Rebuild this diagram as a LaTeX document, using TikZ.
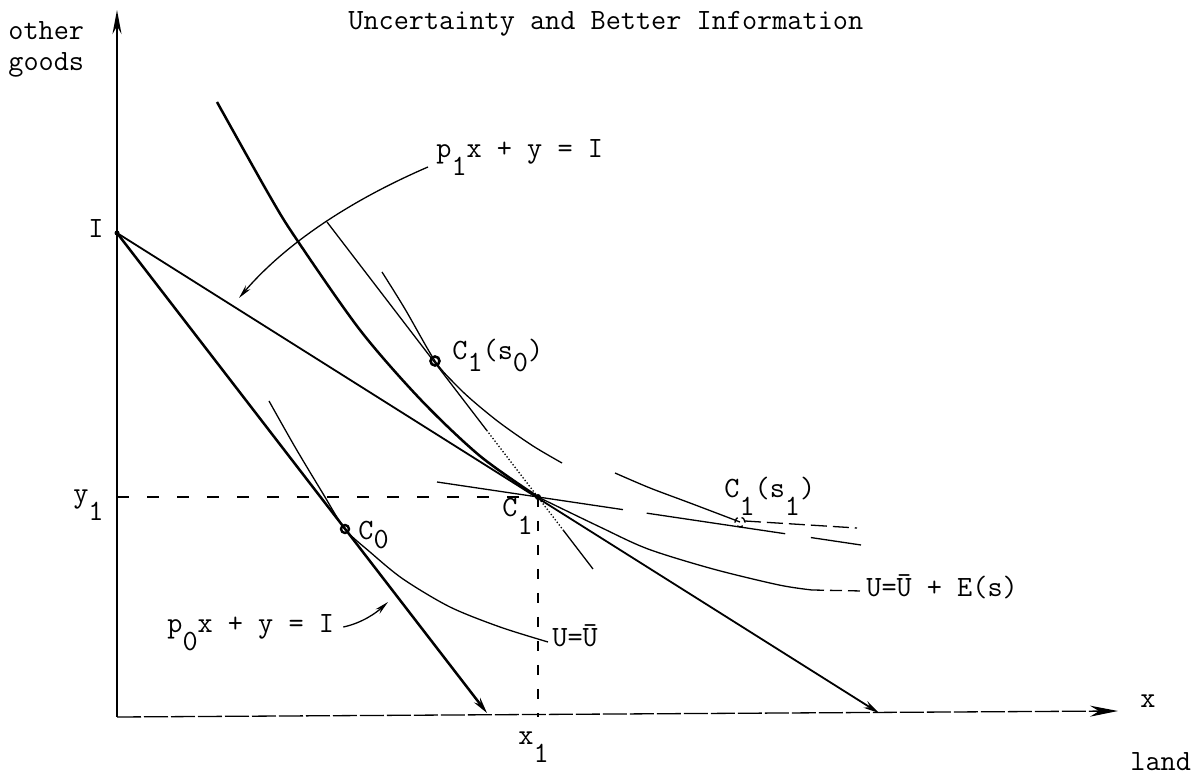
\documentclass[tikz,border=0pt]{standalone}
\usepackage{fontspec}
\usepackage{tikz}
\usetikzlibrary{arrows.meta, calc}
\newcommand{\lo}[2][0.58em]{\raisebox{-#1}{#2}}

\begin{document}
\begin{tikzpicture}[x=0.5pt, y=0.5pt,
  lbl/.style={anchor=base west, inner sep=0pt, font=\ttfamily\fontsize{14.7}{17}\selectfont},
  heavy/.style={line width=1.25pt},
  medium/.style={line width=0.9pt},
  fine/.style={line width=0.65pt},
  tip/.style={-{Stealth[length=8pt, width=3.8pt]}},
  lbltip/.style={-{Stealth[length=7pt, width=3pt]}}]
\useasboundingbox (0,0) rectangle (1191,-780);
% axes
\coordinate (O) at (117,-717);
\coordinate (Ytop) at (117,-10);
\coordinate (Xend) at (1118,-711);
\draw[heavy, -{Stealth[length=12pt, width=4.5pt]}] (O) -- (Ytop);
\draw[fine, dash pattern=on 12pt off 1.5pt, -{Stealth[length=14pt, width=5.5pt]}] (O) -- (Xend);
% points
\coordinate (I) at (117,-233);
\coordinate (C0) at (345,-529);
\coordinate (C1) at (538,-497);
\coordinate (C1s0) at (435,-361);
\coordinate (C1s1) at (740,-522);
\coordinate (P0end) at (487,-713);
\coordinate (P1end) at (879,-713);
% budget lines
\draw[heavy, tip] (I) -- (P0end);
\draw[medium, tip] (I) -- (P1end);
% guides to y1 and x1
\draw[fine, dash pattern=on 6pt off 9pt] (I |- C1) -- (C1);
\draw[fine, dash pattern=on 5pt off 7pt] (C1) -- (C1 |- O);
% U = U + E(s)
\draw[heavy] plot[smooth] coordinates {(217,-102) (268,-193) (295,-237) (360,-330) (421,-400) (480,-456) (C1)};
\draw[fine] plot[smooth] coordinates {(C1) (600,-527) (648,-549) (713,-569) (779,-585) (812,-590)};
\draw[fine, dash pattern=on 6pt off 3pt] (812,-590) -- (862,-591);
% U = U
\draw[fine] plot[smooth] coordinates {(269,-401) (295,-447) (322,-492) (C0) (370,-552) (403,-579) (450,-607) (500,-627) (548,-642)};
% state s0
\draw[fine] plot[smooth] coordinates {(382,-272) (405,-309) (C1s0) (455,-384) (473,-401) (500,-423) (533,-446) (562,-463)};
\coordinate (T0a) at (327,-222);
\coordinate (T0b) at (593,-569);
\coordinate (T0m) at ($(T0a)!0.6!(T0b)$);
\coordinate (T0n) at ($(T0a)!0.89!(T0b)$);
\draw[fine] (T0a) -- (T0m);
\draw[fine, densely dotted] (T0m) -- (T0n);
\draw[fine] (T0n) -- (T0b);
% state s1
\draw[fine] plot[smooth] coordinates {(615,-473) (650,-488) (690,-503) (C1s1)};
\draw[fine, dash pattern=on 8pt off 3pt] (745,-521) -- (857,-528);
\coordinate (T1a) at (437,-482);
\coordinate (T1b) at (861,-545);
\draw[fine, dash pattern=on 94pt off 12pt on 70pt off 13pt on 30pt] (T1a) -- (C1) -- (T1b);
% markers
\draw[line width=1.2pt] (C0) circle[radius=4];
\draw[line width=1.3pt] (C1s0) circle[radius=4.5];
\draw[fine, densely dashed] (C1s1) circle[radius=5];
\fill (C1) circle[radius=3];
\fill (I) circle[radius=2.5];
% labels
\node[lbl] (title) at (348,-30) {Uncertainty and Better Information};
\node[lbl] (ylabA) at (8,-40) {other};
\node[lbl] (ylabB) at (8,-71) {goods};
\node[lbl, anchor=base east] (Ilbl) at (104,-238) {I};
\node[lbl, anchor=base east] (y1lbl) at (104,-503) {y\lo{1}};
\node[lbl] (p1lbl) at (436,-158) {p\lo{1}x + y = I};
\node[lbl] (p0lbl) at (167,-633) {p\lo{0}x + y = I};
\node[lbl] (C1s0lbl) at (452,-360) {C\lo[0.4em]{1}(s\lo[0.4em]{0})};
\node[lbl] (C1s1lbl) at (724,-498) {C\lo{1}(s\lo{1})};
\node[lbl] (C0lbl) at (358,-540) {C\lo[0.3em]{0}};
\node[lbl] (C1lbl) at (502,-517) {C\lo{1}};
\node[lbl] (x1lbl) at (518,-745) {x\lo{1}};
\node[lbl] (xlbl) at (1140,-708) {x};
\node[lbl] (landlbl) at (1130,-771) {land};
\node[lbl] (Ulbl) at (552,-647) {U=Ū};
\node[lbl] (UElbl) at (866,-597) {U=Ū + E(s)};
% label arrows
\coordinate (p1arr) at (239,-298);
\coordinate (p0arr) at (388,-602);
\draw[fine, lbltip] ($(p1lbl.base west)+(-8,-9)$) .. controls (340,-205) and (280,-250) .. (p1arr);
\draw[fine, lbltip] ($(p0lbl.base east)+(9,6)$) .. controls (362,-623) and (376,-613) .. (p0arr);
\end{tikzpicture}
\end{document}
